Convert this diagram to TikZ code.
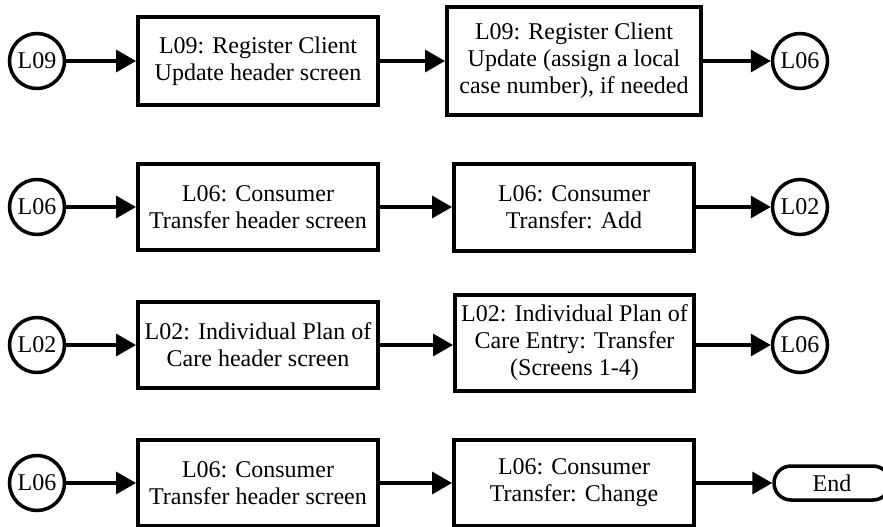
\documentclass[tikz,border=0pt]{standalone}
\usepackage{fontspec}
\setmainfont{Liberation Serif}
\newfontfamily\diagfont{Liberation Serif}
\usetikzlibrary{arrows.meta,shapes.misc}
\begin{document}
\begin{tikzpicture}[x=1pt,y=-1pt,
  txt/.style={font=\diagfont\fontsize{24}{27}\selectfont},
  box/.style={txt, draw, line width=4pt, rectangle, inner sep=0pt, align=center},
  conn/.style={txt, draw, circle, line width=3.5pt, minimum size=55pt, inner sep=0pt},
  term/.style={txt, draw, rounded rectangle, line width=3.5pt, minimum width=116pt, minimum height=34pt, inner sep=0pt},
  arr/.style={line width=3.5pt, -{Triangle[length=20pt,width=22pt]}}]
\useasboundingbox (0,0) rectangle (883,527);
% Row 1
\node[conn] (c1) at (37,61) {L09};
\node[box, minimum width=240pt, minimum height=88pt] (a1) at (258,61) {L09: Register Client\\Update header screen};
\node[box, minimum width=254pt, minimum height=108pt] (b1) at (574,61) {L09: Register Client\\Update (assign a local\\case number), if needed};
\node[conn] (d1) at (800,61) {L06};
\draw[arr] (c1) -- (a1);
\draw[arr] (a1) -- (b1);
\draw[arr] (b1) -- (d1);
% Row 2
\node[conn] (c2) at (37,207) {L06};
\node[box, minimum width=240pt, minimum height=86pt] (a2) at (258,207) {L06: Consumer\\Transfer header screen};
\node[box, minimum width=240pt, minimum height=87pt] (b2) at (574,207) {L06: Consumer\\Transfer: Add};
\node[conn] (d2) at (800,207) {L02};
\draw[arr] (c2) -- (a2);
\draw[arr] (a2) -- (b2);
\draw[arr] (b2) -- (d2);
% Row 3
\node[conn] (c3) at (37,345) {L02};
\node[box, minimum width=240pt, minimum height=86pt] (a3) at (258,345) {L02: Individual Plan of\\Care header screen};
\node[box, minimum width=239pt, minimum height=96pt] (b3) at (574.5,343) {L02: Individual Plan of\\Care Entry: Transfer\\(Screens 1-4)};
\node[conn] (d3) at (800,345) {L06};
\draw[arr] (c3) -- (a3);
\draw[arr] (a3.east) -- (a3.east -| b3.west);
\draw[arr] (b3.east |- d3.west) -- (d3.west);
% Row 4
\node[conn] (c4) at (37,483) {L06};
\node[box, minimum width=240pt, minimum height=86pt] (a4) at (258,483) {L06: Consumer\\Transfer header screen};
\node[box, minimum width=240pt, minimum height=86pt] (b4) at (574,483) {L06: Consumer\\Transfer: Change};
\node[term] (e4) at (832,483) {End};
\draw[arr] (c4) -- (a4);
\draw[arr] (a4) -- (b4);
\draw[arr] (b4) -- (e4);
\end{tikzpicture}
\end{document}
